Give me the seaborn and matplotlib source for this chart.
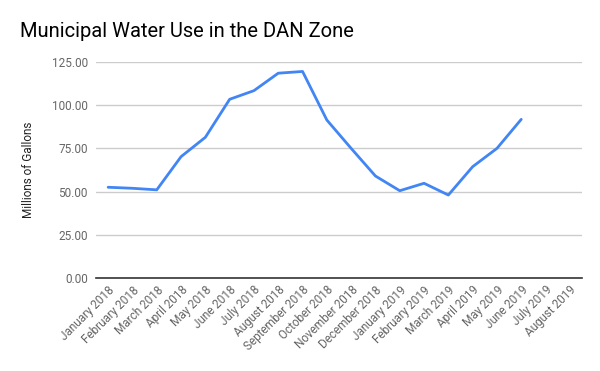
import pandas as pd
import matplotlib.pyplot as plt
import seaborn as sns

# Datos del gráfico
months = ['January 2018', 'February 2018', 'March 2018', 'April 2018', 'May 2018',
          'June 2018', 'July 2018', 'August 2018', 'September 2018', 'October 2018',
          'November 2018', 'December 2018', 'January 2019', 'February 2019',
          'March 2019', 'April 2019', 'May 2019', 'June 2019', 'July 2019', 'August 2019']
water_use = [52.5, 51.9, 51.0, 70.2, 81.4, 103.4, 108.4, 118.5, 119.5, 91.4,
             75.0, 59.0, 50.5, 54.8, 48.0, 64.4, 75.0, 91.8, None, None]
y_ticks = [0, 25, 50, 75, 100, 125]

df = pd.DataFrame({'Month': months, 'Use': water_use})
df['Month'] = pd.Categorical(df['Month'], categories=months, ordered=True)
df_valid = df.dropna()

sns.set_style('white')
plt.rcParams['font.family'] = ['Roboto', 'DejaVu Sans']

fig = plt.figure(figsize=(6, 3.71), dpi=100)
ax = fig.add_axes([0.16, 0.2507, 0.81, 0.5823])

sns.lineplot(x=df_valid['Month'].cat.codes, y='Use', data=df_valid, ax=ax,
             color='#4285F4', linewidth=2)

ax.set_xlim(-0.5, len(months) - 0.5)
ax.set_ylim(0, 125)
ax.set_yticks(y_ticks)
ax.set_yticklabels([f'{v:.2f}' for v in y_ticks])
ax.set_xticks(range(len(months)))
ax.set_xticklabels(months, rotation=45, ha='right', rotation_mode='anchor')
ax.tick_params(axis='both', length=0, colors='#666666', labelsize=8.5)
ax.tick_params(axis='x', pad=4)
ax.tick_params(axis='y', pad=6)

ax.grid(axis='y', color='#cccccc', linewidth=1)
ax.set_axisbelow(True)
for s in ['top', 'right', 'left']:
    ax.spines[s].set_visible(False)
ax.spines['bottom'].set_color('#333333')
ax.spines['bottom'].set_linewidth(1.2)

ax.set_xlabel('')
ax.set_ylabel('Millions of Gallons', fontsize=8.5, color='#222222', labelpad=12)
fig.text(0.033, 0.915, 'Municipal Water Use in the DAN Zone', fontsize=14.5,
         color='#000000', ha='left', va='center')

plt.savefig('out.png', dpi=100)
